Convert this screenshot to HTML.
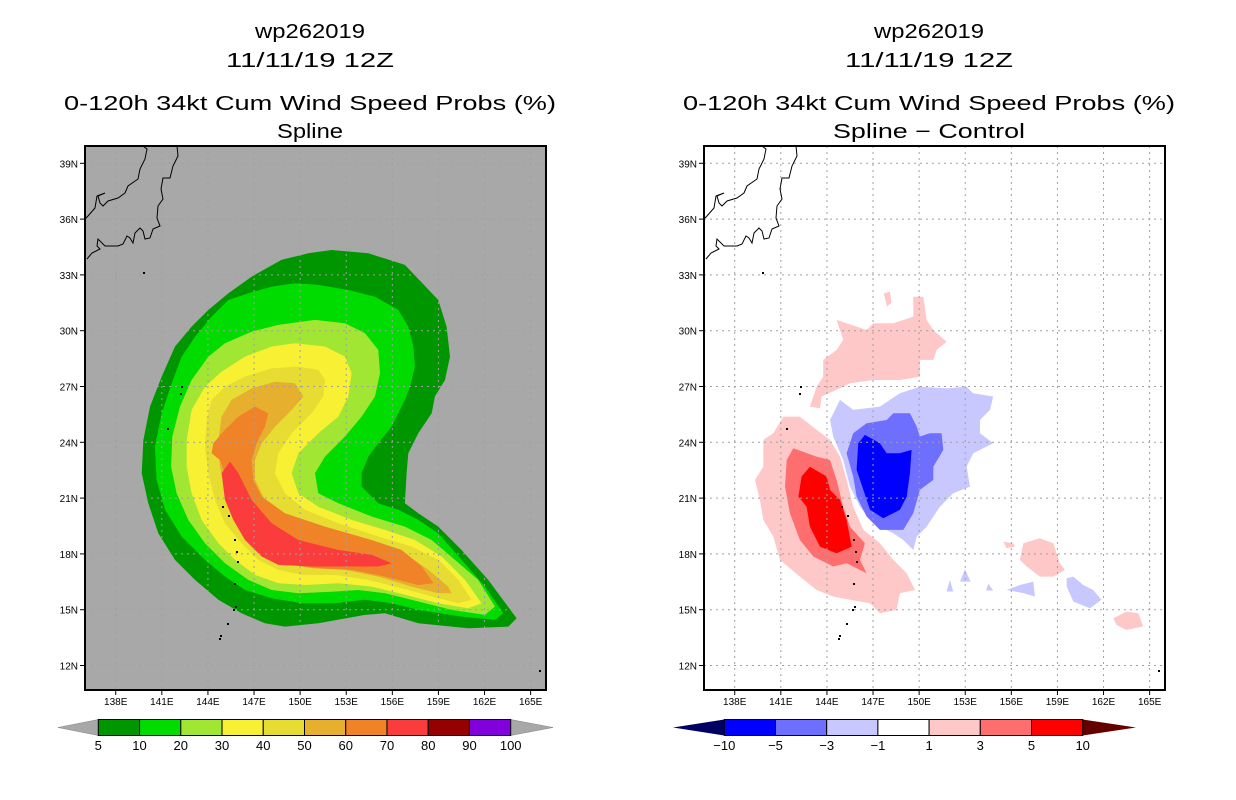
<!DOCTYPE html>
<html><head><meta charset="utf-8"><style>
html,body{margin:0;padding:0;background:#fff;}
svg{display:block;font-family:"Liberation Sans",sans-serif;}
</style></head><body>
<svg id="fig" width="1236" height="800" viewBox="0 0 1236 800" xmlns="http://www.w3.org/2000/svg">
<g id="L"></g>
<g id="R"></g>
</svg>
<script>
// ---------- data ----------
const latTicks=[12,15,18,21,24,27,30,33,36,39];
const lonTicks=[138,141,144,147,150,153,156,159,162,165];
const probLevels=[5,10,20,30,40,50,60,70,80,90,100];
const probColors=['#009600','#00dc00','#a0e632','#f8f032','#e6dc32','#e6af2d','#f08228','#fa3c3c','#960000','#8200dc'];
const diffLevels=[-10,-5,-3,-1,1,3,5,10];
const diffColors=['#0000ff','#6e6eff','#c8c8ff','#ffffff','#ffc8c8','#ff6e6e','#ff0000'];
const p5=[[152.05,34.34],[154.44,34.16],[156.82,33.54],[158.99,31.65],[159.53,30.22],[159.75,28.61],[159.43,27.35],[158.77,26.46],[158.56,25.56],[157.69,24.49],[157.04,23.41],[156.93,22.34],[156.82,20.72],[157.69,20.19],[158.99,19.47],[160.51,18.21],[162.24,16.6],[164.09,14.54],[163.55,14.09],[160.94,14.0],[157.69,14.27],[155.52,14.81],[154.22,14.72],[151.18,14.27],[149.01,14.09],[147.71,14.27],[146.19,14.81],[144.68,15.53],[143.16,16.6],[141.86,17.68],[140.77,19.11],[140.12,20.72],[139.69,22.34],[139.8,24.13],[140.23,25.92],[140.99,27.53],[141.86,29.15],[142.94,30.22],[144.03,31.12],[145.33,32.01],[146.85,32.91],[148.8,33.81],[150.53,34.16]];
const p10=[[149.66,32.55],[151.18,32.46],[153.14,32.19],[154.87,31.83],[156.39,31.12],[157.04,30.22],[157.37,29.15],[157.47,28.07],[157.15,26.99],[156.82,26.28],[155.95,24.84],[155.09,23.95],[154.44,23.23],[154.0,22.34],[154.0,21.62],[155.09,20.72],[156.39,20.37],[157.69,19.83],[158.99,19.11],[160.51,17.68],[162.03,16.24],[163.22,14.81],[162.68,14.45],[160.51,14.63],[157.69,14.99],[155.95,15.35],[154.22,15.53],[152.27,15.35],[150.1,15.35],[148.15,15.62],[146.41,16.06],[145.11,16.78],[143.81,17.68],[142.29,18.93],[141.21,20.37],[140.66,21.98],[140.55,23.77],[140.99,25.56],[141.64,27.17],[142.29,28.61],[143.16,29.68],[144.24,30.76],[145.33,31.65],[146.63,32.01],[148.15,32.37]];
const p20=[[150.97,30.58],[152.92,30.4],[154.22,29.86],[155.09,28.97],[155.2,27.71],[154.87,26.46],[154.0,25.38],[152.92,24.31],[151.62,23.23],[150.97,22.34],[151.18,21.26],[152.49,20.72],[154.65,20.01],[156.82,19.47],[158.56,18.75],[160.08,17.68],[161.59,16.6],[162.68,15.17],[162.03,14.72],[159.86,14.99],[157.69,15.44],[155.52,15.88],[153.79,16.06],[152.05,15.97],[149.88,15.88],[148.15,16.06],[146.63,16.6],[145.11,17.5],[143.81,18.57],[142.72,19.83],[141.96,21.26],[141.6,22.69],[141.68,24.31],[142.18,25.92],[142.94,27.35],[144.03,28.61],[145.11,29.32],[146.85,29.95],[148.58,30.31]];
const p30=[[149.66,29.32],[151.62,29.15],[152.92,28.61],[153.35,27.71],[153.14,26.46],[152.49,25.38],[151.18,24.49],[149.88,23.41],[149.45,22.34],[149.88,21.26],[151.18,20.54],[153.35,19.83],[155.52,19.29],[157.47,18.75],[159.21,17.86],[160.73,16.6],[161.81,15.35],[160.94,15.08],[158.99,15.35],[156.82,15.8],[154.65,16.24],[152.49,16.42],[150.32,16.33],[148.58,16.42],[147.06,16.87],[145.76,17.68],[144.68,18.57],[143.59,19.83],[142.94,21.26],[142.62,22.69],[142.62,24.13],[142.94,25.74],[143.81,26.99],[144.89,27.8],[146.41,28.61],[148.15,29.15]];
const p40=[[149.88,28.07],[151.18,27.89],[151.62,27.35],[151.51,26.46],[150.75,25.56],[149.45,24.49],[148.58,23.41],[148.36,22.34],[149.01,21.26],[150.32,20.37],[152.49,19.65],[155.09,18.93],[157.26,18.39],[158.99,17.68],[160.29,16.6],[161.16,15.53],[160.29,15.35],[158.56,15.71],[156.61,16.15],[154.44,16.6],[152.27,16.87],[150.1,16.87],[148.58,17.14],[147.28,17.68],[146.19,18.57],[145.11,19.65],[144.46,20.9],[144.03,22.34],[143.81,23.77],[143.92,25.2],[144.24,26.28],[145.11,26.99],[146.41,27.53],[148.15,27.98]];
const p50=[[148.36,27.26],[149.66,27.17],[150.21,26.46],[149.45,25.74],[148.36,24.84],[147.5,23.95],[147.06,23.05],[147.06,21.98],[147.71,20.9],[149.23,20.01],[151.62,19.29],[154.65,18.57],[156.82,18.04],[158.34,17.14],[159.64,16.24],[159.86,15.88],[158.99,15.88],[157.26,16.24],[155.09,16.78],[152.92,17.14],[150.75,17.23],[149.01,17.5],[147.71,18.13],[146.63,19.11],[145.76,20.19],[145.11,21.44],[144.78,22.69],[144.68,24.13],[144.89,25.38],[145.54,26.28],[146.85,26.9]];
const p60=[[147.06,25.92],[147.93,25.56],[147.71,24.84],[147.17,23.95],[146.85,23.05],[146.95,21.98],[147.5,21.08],[149.01,20.19],[151.62,19.47],[154.65,18.75],[156.61,18.21],[157.91,17.32],[158.67,16.42],[157.69,16.33],[155.52,16.78],[153.35,17.14],[151.18,17.23],[149.45,17.41],[148.15,17.86],[147.06,18.75],[146.19,19.83],[145.54,21.08],[145.11,22.34],[144.78,23.05],[144.24,23.41],[144.35,23.95],[145.11,24.67],[145.98,25.38]];
const p70=[[145.44,22.96],[145.98,22.34],[146.85,20.9],[148.15,19.65],[149.88,18.75],[152.49,18.21],[154.65,17.95],[155.95,17.5],[155.09,17.32],[152.92,17.32],[150.75,17.32],[148.58,17.41],[147.5,17.86],[146.41,18.75],[145.65,19.83],[145.11,20.9],[144.89,22.34]];
const dPinkN=[[144.63,30.58],[146.58,30.04],[147.02,30.4],[148.32,30.4],[149.62,30.76],[149.62,31.83],[150.27,31.83],[150.49,30.58],[150.92,30.04],[151.79,29.41],[151.14,28.97],[150.92,28.43],[150.05,28.43],[150.05,27.53],[148.75,27.35],[147.02,27.35],[145.5,27.17],[144.63,26.82],[143.65,26.46],[143.55,25.83],[142.89,25.92],[143.33,26.99],[143.76,27.53],[143.76,28.43],[144.63,28.97],[145.06,29.51]];
const dPinkN2=[[147.7,32.0],[148.1,32.1],[148.2,31.5],[147.9,31.3]];
const dPinkSW=[[141.16,25.38],[142.24,25.38],[143.33,24.67],[144.2,24.13],[144.85,23.23],[145.28,21.98],[145.71,20.54],[146.37,19.29],[147.45,18.57],[148.32,17.68],[149.19,16.96],[149.73,16.06],[148.75,15.88],[148.53,14.99],[147.45,14.81],[146.8,15.35],[145.5,15.53],[144.41,15.71],[143.33,16.06],[142.24,16.78],[140.94,17.68],[140.51,18.93],[139.86,19.83],[139.64,20.9],[139.32,21.98],[139.86,22.69],[139.86,24.13],[140.51,24.49]];
const dMedRed=[[141.81,23.68],[143.33,23.23],[144.2,23.05],[144.63,21.98],[145.06,20.54],[145.5,19.47],[146.47,18.57],[146.15,17.68],[146.58,16.96],[145.28,17.5],[144.41,17.32],[143.11,17.86],[142.24,18.75],[141.59,20.19],[141.27,21.62],[141.38,23.05]];
const dRed=[[142.89,22.69],[143.98,22.16],[144.2,21.44],[144.85,20.9],[145.28,19.83],[145.61,18.39],[144.63,18.04],[143.55,18.39],[142.89,19.47],[142.68,20.54],[142.14,21.08],[142.35,22.16]];
const dLightBlue=[[144.85,26.28],[145.71,25.74],[147.45,25.92],[148.75,26.64],[150.05,26.99],[151.79,26.9],[153.09,26.99],[153.52,26.64],[154.82,26.46],[154.61,25.74],[153.96,25.2],[153.96,24.49],[154.82,23.95],[153.52,23.41],[153.09,22.69],[153.31,21.62],[152.22,21.26],[151.35,20.54],[150.49,19.47],[149.84,18.93],[149.62,18.21],[148.97,18.75],[148.32,19.11],[147.02,19.65],[146.15,20.54],[145.5,21.62],[145.06,23.05],[144.41,24.31],[144.2,25.2]];
const dMedBlue=[[146.58,25.02],[147.88,25.2],[148.32,25.56],[149.4,25.56],[149.84,24.85],[150.05,24.31],[150.7,24.49],[151.46,24.49],[151.57,23.59],[150.92,22.69],[150.92,21.98],[150.05,21.44],[149.62,20.19],[148.97,19.29],[147.45,19.29],[146.58,20.01],[145.93,21.08],[145.71,22.16],[145.28,23.41],[145.71,24.49]];
const dBlue=[[146.47,24.4],[147.45,23.95],[147.88,23.41],[148.75,23.41],[149.51,23.59],[149.4,22.34],[149.19,21.08],[148.75,20.37],[147.67,19.92],[146.8,20.37],[146.37,21.44],[145.93,22.52],[146.04,23.95]];
const dPinkSE1=[[156.78,18.57],[157.86,18.84],[158.73,18.57],[159.16,17.5],[159.49,17.14],[158.73,16.78],[157.86,16.78],[157.0,17.32],[156.56,17.68]];
const dPinkSE2=[[162.63,14.54],[163.5,14.9],[164.26,14.81],[164.59,14.1],[163.5,13.91],[162.85,14.18]];
const dPinkSE3=[[155.48,18.66],[156.13,18.57],[156.24,18.39],[155.69,18.3]];
const dBlueSE1=[[159.6,16.69],[160.03,16.78],[160.68,16.33],[161.33,16.06],[161.87,15.53],[161.11,15.08],[160.03,15.44],[159.6,16.24]];
const dBlueSE2=[[155.69,16.06],[156.56,16.33],[157.43,16.51],[157.54,15.71],[156.78,15.89]];
const dBlueSE3=[[152.98,17.18],[153.35,16.51],[152.66,16.51]];
const dBlueSE4=[[152.0,16.6],[152.22,15.98],[151.79,15.98]];
const dBlueSE5=[[154.5,16.39],[154.82,16.03],[154.35,16.03]];

const NS='http://www.w3.org/2000/svg';
const MAP={x0:85,x1:546,y0:146,y1:690,lon0:136,lon1:166};
function xOf(lon,off){return off+MAP.x0+(lon-MAP.lon0)*(MAP.x1-MAP.x0)/(MAP.lon1-MAP.lon0);}
function yOf(lat){return 330.7-(lat-30)*18.6;}
function el(tag,attrs,parent){const e=document.createElementNS(NS,tag);for(const k in attrs)e.setAttribute(k,attrs[k]);parent.appendChild(e);return e;}
function poly(g,pts,off,fill,name){
  const d=pts.map((p,i)=>(i?'L':'M')+xOf(p[0],off).toFixed(1)+' '+yOf(p[1]).toFixed(1)).join(' ')+'Z';
  const p=el('path',{d:d,fill:fill},g);
  
  
}
const coastW='M143,146 L147,149 L145,159 L140,169 L138,179 L128,186 L125,193 L118,198 L108,201 L103,206 L100,203 L98,196 L105,193 L97,196 L95,208 L88,216 L85,219';
const coastE='M177,146 L178,156 L173,166 L170,178 L163,178 L161,189 L163,199 L158,206 L157,218 L160,226 L153,229 L150,238 L145,239 L143,231 L140,228 L135,233 L133,243 L130,238 L127,236 L123,244 L118,246 L105,246 L98,239 L97,246 L100,249 L92,253 L87,259';
const islands=[[181,386],[180,393],[167,428],[222,506],[228,515],[234,539],[236,551],[237,561],[234,583],[235,606],[233,609],[227,623],[220,635],[219,638],[143,272],[539,670]];

function panel(g,off,bg,titleLines){
  const cx=off+310;
  const ty=[38,67,110,138];
  titleLines.forEach((t,i)=>{
    const tx=el('text',{x:cx,y:ty[i],'text-anchor':'middle','font-size':20,fill:'#000'},g);
    if(t.len){tx.setAttribute('textLength',t.len);tx.setAttribute('lengthAdjust','spacingAndGlyphs');}
    tx.textContent=t.s;
    
    
  });
  const bgr=el('rect',{x:off+MAP.x0,y:MAP.y0,width:MAP.x1-MAP.x0,height:MAP.y1-MAP.y0,fill:bg},g);
  
  
  const cg=el('g',{},g);
  
  
  return cg;
}
function frame(g,off){
  latTicks.forEach(v=>{const l=el('line',{x1:off+MAP.x0,x2:off+MAP.x1,y1:yOf(v),y2:yOf(v),stroke:'#a0a0a0','stroke-width':1,'stroke-dasharray':'2,4'},g);
    });
  lonTicks.forEach(v=>{const l=el('line',{x1:xOf(v,off),x2:xOf(v,off),y1:MAP.y0,y2:MAP.y1,stroke:'#a0a0a0','stroke-width':1,'stroke-dasharray':'2,4'},g);
    });
  [coastW,coastE].forEach(d=>{const c=el('path',{d:d,fill:'none',stroke:'#000','stroke-width':1,transform:'translate('+off+',0)'},g);
    });
  islands.forEach(p=>{
    const r=el('rect',{x:off+p[0],y:p[1],width:2,height:2,fill:'#000'},g);
    });
  const b=el('rect',{x:off+MAP.x0,y:MAP.y0,width:MAP.x1-MAP.x0,height:MAP.y1-MAP.y0,fill:'none',stroke:'#000','stroke-width':2},g);
  
  latTicks.forEach(v=>{
    const t=el('line',{x1:off+MAP.x0-5,x2:off+MAP.x0,y1:yOf(v),y2:yOf(v),stroke:'#000'},g);
    
    const tx=el('text',{x:off+MAP.x0-7,y:yOf(v)+4,'text-anchor':'end','font-size':10,fill:'#000'},g);
    tx.textContent=v+'N';
    
  });
  lonTicks.forEach(v=>{
    const t=el('line',{x1:xOf(v,off),x2:xOf(v,off),y1:MAP.y1,y2:MAP.y1+5,stroke:'#000'},g);
    
    const tx=el('text',{x:xOf(v,off),y:MAP.y1+15,'text-anchor':'middle','font-size':10,fill:'#000'},g);
    tx.textContent=v+'E';
    
  });
}

const L=document.getElementById('L');
const cgL=panel(L,0,'#a8a8a8',[{s:'wp262019',len:110},{s:'11/11/19 12Z',len:168},{s:'0-120h 34kt Cum Wind Speed Probs (%)',len:492},{s:'Spline',len:66}]);
[p5,p10,p20,p30,p40,p50,p60,p70].forEach((c,i)=>poly(cgL,c,0,probColors[i],'prob-contour-'+probLevels[i]));
frame(L,0);
(function(){
  const g=el('g',{},L);
  
  const x0=98.3,x1=510.7,y0=719.5,y1=735.5,n=probColors.length,w=(x1-x0)/n;
  const tl=el('path',{d:`M${x0} ${y0} L58 ${(y0+y1)/2} L${x0} ${y1}Z`,fill:'#a8a8a8',stroke:'#808080','stroke-width':0.5},g);
  
  const tr=el('path',{d:`M${x1} ${y0} L553 ${(y0+y1)/2} L${x1} ${y1}Z`,fill:'#a8a8a8',stroke:'#808080','stroke-width':0.5},g);
  
  probColors.forEach((c,i)=>{
    const r=el('rect',{x:x0+i*w,y:y0,width:w,height:y1-y0,fill:c,stroke:'#000','stroke-width':1},g);
    
  });
  probLevels.forEach((v,i)=>{
    const t=el('text',{x:x0+i*w,y:750,'text-anchor':'middle','font-size':13,fill:'#000'},g);
    t.textContent=v;
    
  });
})();

const R=document.getElementById('R');
const OFF=619;
const cgR=panel(R,OFF,'#ffffff',[{s:'wp262019',len:110},{s:'11/11/19 12Z',len:168},{s:'0-120h 34kt Cum Wind Speed Probs (%)',len:492},{s:'Spline \u2212 Control',len:192}]);
poly(cgR,dPinkN,OFF,diffColors[4],'diff-pos-1');
poly(cgR,dPinkN2,OFF,diffColors[4],'diff-pos-1');
poly(cgR,dPinkSW,OFF,diffColors[4],'diff-pos-1');
poly(cgR,dMedRed,OFF,diffColors[5],'diff-pos-3');
poly(cgR,dRed,OFF,diffColors[6],'diff-pos-5');
poly(cgR,dLightBlue,OFF,diffColors[2],'diff-neg-1');
poly(cgR,dMedBlue,OFF,diffColors[1],'diff-neg-3');
poly(cgR,dBlue,OFF,diffColors[0],'diff-neg-5');
[dPinkSE1,dPinkSE2,dPinkSE3].forEach(c=>poly(cgR,c,OFF,diffColors[4],'diff-pos-1'));
[dBlueSE1,dBlueSE2,dBlueSE3,dBlueSE4,dBlueSE5].forEach(c=>poly(cgR,c,OFF,diffColors[2],'diff-neg-1'));
frame(R,OFF);
(function(){
  const g=el('g',{},R);
  
  const x0=724.3,x1=1082.7,y0=719.5,y1=735.5,n=diffColors.length,w=(x1-x0)/n;
  const tl=el('path',{d:`M${x0} ${y0} L673 ${(y0+y1)/2} L${x0} ${y1}Z`,fill:'#000064'},g);
  
  const tr=el('path',{d:`M${x1} ${y0} L1136 ${(y0+y1)/2} L${x1} ${y1}Z`,fill:'#640000'},g);
  
  diffColors.forEach((c,i)=>{
    const r=el('rect',{x:x0+i*w,y:y0,width:w,height:y1-y0,fill:c,stroke:'#000','stroke-width':1},g);
    
  });
  diffLevels.forEach((v,i)=>{
    const t=el('text',{x:x0+i*w,y:750,'text-anchor':'middle','font-size':13,fill:'#000'},g);
    t.textContent=v<0?'\u2212'+(-v):String(v);
    
  });
})();
</script>
</body></html>
